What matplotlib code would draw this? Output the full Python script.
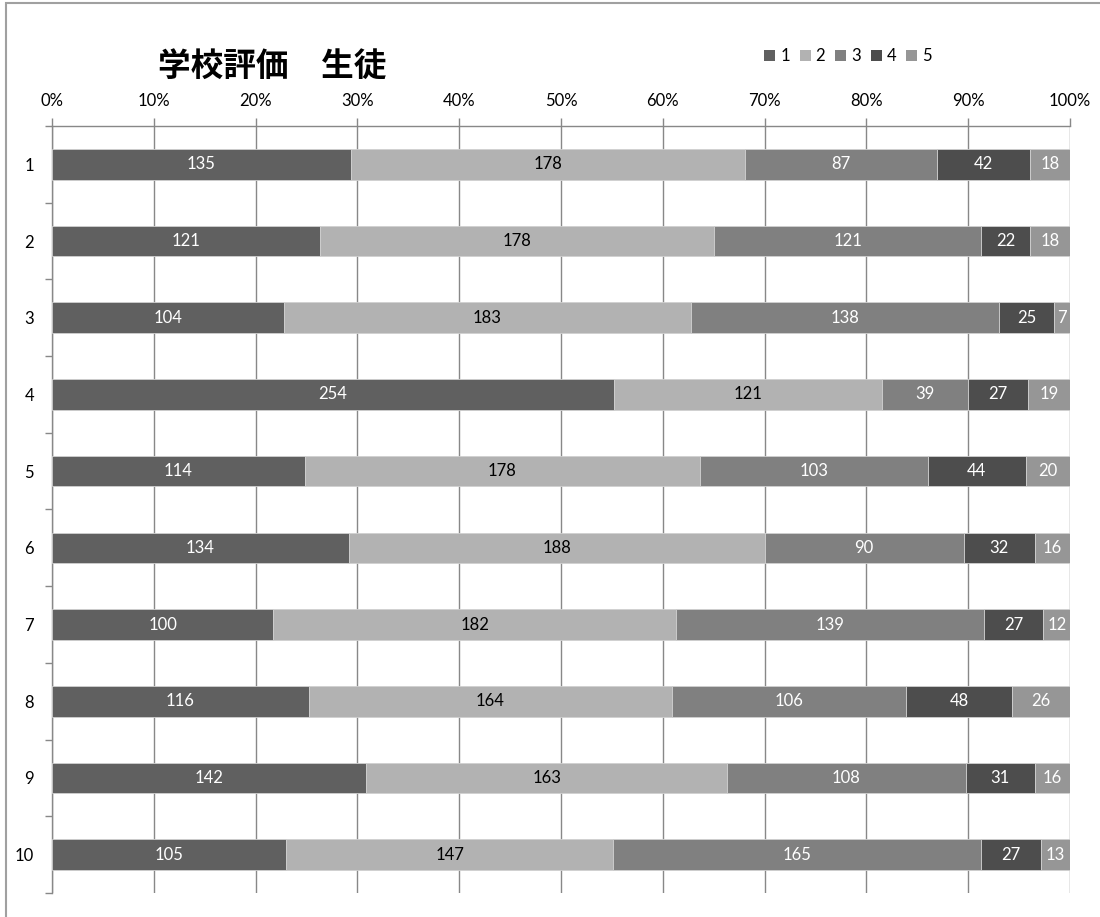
import matplotlib.pyplot as plt
from matplotlib.patches import Patch, Rectangle
import numpy as np

plt.rcParams['font.family'] = ['Lato', 'Noto Sans CJK JP', 'DejaVu Sans']

# data
questions = ['1', '2', '3', '4', '5', '6', '7', '8', '9', '10']
ans1 = [135, 121, 104, 254, 114, 134, 100, 116, 142, 105]
ans2 = [178, 178, 183, 121, 178, 188, 182, 164, 163, 147]
ans3 = [87, 121, 138, 39, 103, 90, 139, 106, 108, 165]
ans4 = [42, 22, 25, 27, 44, 32, 27, 48, 31, 27]
ans5 = [18, 18, 7, 19, 20, 16, 12, 26, 16, 13]
series_names = ['1', '2', '3', '4', '5']
x_ticks = [0, 0.1, 0.2, 0.3, 0.4, 0.5, 0.6, 0.7, 0.8, 0.9, 1.0]
x_labels = ['0%', '10%', '20%', '30%', '40%', '50%', '60%', '70%', '80%', '90%', '100%']

colors = ['#606060', '#b2b2b2', '#808080', '#4d4d4d', '#969696']
text_colors = ['white', 'black', 'white', 'white', 'white']
FS = 12

series = np.array([ans1, ans2, ans3, ans4, ans5], dtype=float)
totals = series.sum(axis=0)
shares = series / totals

fig = plt.figure(figsize=(11, 9.17), dpi=100)
ax = fig.add_axes([52/1100, 1-893/917, (1070-52)/1100, (893-126)/917])

y = np.arange(len(questions))
left = np.zeros(len(questions))
for k in range(5):
    ax.barh(y, shares[k], left=left, height=0.4, color=colors[k],
            edgecolor='#d0d0d0', linewidth=0.6, zorder=3)
    for i in range(len(questions)):
        ax.text(left[i] + shares[k][i]/2, y[i], str(int(series[k][i])),
                ha='center', va='center', fontsize=FS, color=text_colors[k], zorder=4)
    left += shares[k]

ax.set_xlim(0, 1)
ax.set_ylim(len(questions) - 0.5, -0.5)
ax.xaxis.tick_top()
ax.set_xticks(x_ticks)
ax.set_xticklabels(x_labels, fontsize=FS)
ax.tick_params(axis='x', direction='out', length=6, width=1, color='#888888', pad=6)
ax.grid(axis='x', color='#888888', linewidth=1, zorder=0)

ax.set_yticks(y)
ax.set_yticklabels(questions, fontsize=FS)
ax.set_yticks(np.arange(-0.5, len(questions)), minor=True)
ax.tick_params(axis='y', which='major', length=0, pad=13)
ax.tick_params(axis='y', which='minor', direction='out', length=5, width=1, color='#888888')

for s in ['right', 'bottom']:
    ax.spines[s].set_visible(False)
for s in ['left', 'top']:
    ax.spines[s].set_color('#888888')
    ax.spines[s].set_linewidth(1)

fig.text(158/1100, 1-66/917, '学校評価　生徒', fontsize=23.5, fontweight='bold',
         family=['Noto Sans CJK JP'], ha='left', va='center')

handles = [Patch(facecolor=colors[k], edgecolor='none') for k in range(5)]
fig.legend(handles, series_names, loc='center', bbox_to_anchor=(848/1100, 1-56/917),
           ncol=5, frameon=False, fontsize=FS, handlelength=0.65, handleheight=0.65,
           handletextpad=0.3, columnspacing=0.6, borderaxespad=0)

# chart border
fig.patches.append(Rectangle((6/1100, -0.01), 1.1, 1 - 3.5/917 + 0.01, transform=fig.transFigure,
                             fill=False, edgecolor='#a0a0a0', linewidth=1.5))

fig.savefig('out.png', dpi=100)
